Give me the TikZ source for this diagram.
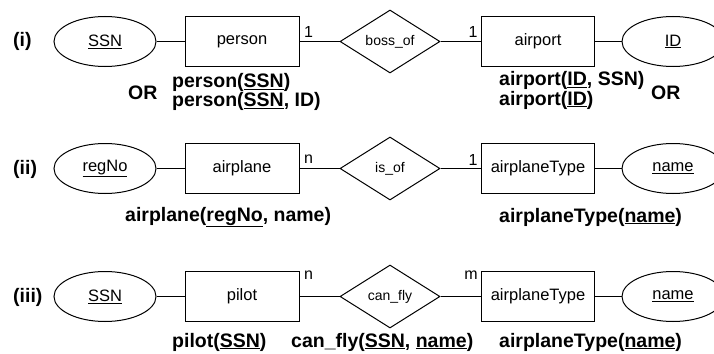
\documentclass[tikz,border=0pt]{standalone}
\usepackage{fontspec}
\setmainfont{Liberation Sans}
\usetikzlibrary{positioning,shapes.geometric}
\tikzset{
    on grid,
    auto,
    entity/.style = {
        draw,
        shape=rectangle,
        minimum height=50pt,
        minimum width=114pt,
        line width=1pt,
        font=\fontsize{16.5}{19}\selectfont
    },
    attrib/.style = {
        draw,
        shape=ellipse,
        minimum height=50pt,
        minimum width=102pt,
        inner sep=0pt,
        line width=1pt,
        font=\fontsize{16.5}{19}\selectfont
    },
    relship/.style = {
        draw,
        shape=diamond,
        minimum height=63pt,
        minimum width=100pt,
        inner sep=0pt,
        line width=1pt,
        font=\fontsize{14}{16}\selectfont
    },
    card/.style = {
        inner sep=0pt,
        font=\fontsize{16}{18}\selectfont
    },
    schema/.style = {
        inner sep=0pt,
        anchor=west,
        align=left,
        font=\bfseries\fontsize{19.5}{17}\selectfont
    },
    tag/.style = {
        inner sep=0pt,
        anchor=west,
        font=\bfseries\fontsize{19.5}{20}\selectfont
    },
}

\begin{document}
\begin{tikzpicture} [x=1pt, y=-1pt]
            \useasboundingbox (0,0) rectangle (714,353);

            % (i)
            \node[attrib] (ssna) at (105,41.5) {\underline{SSN}};
            \node[entity, right=137pt of ssna] (person) {person};
            \node[relship, right=148pt of person] (bossof) {boss\_of};
            \node[entity, right=148pt of bossof, minimum width=113pt] (airport) {airport};
            \node[attrib, right=135pt of airport] (id) {\underline{ID}};
            \node[card] (carda) at (308.5,32) {1};
            \node[card] (cardb) at (473,32) {1};

            % (ii)
            \node[attrib, below=127pt of ssna] (regno) {\underline{regNo}};
            \node[entity, right=137pt of regno] (airplane) {airplane};
            \node[relship, right=148pt of airplane] (isof) {is\_of};
            \node[entity, right=148pt of isof, minimum width=113pt] (typea) {airplaneType};
            \node[attrib, right=135pt of typea] (namea) {\underline{name}};
            \node[card] (cardc) at (308.5,159) {n};
            \node[card] (cardd) at (473,160) {1};

            % (iii)
            \node[attrib, below=128pt of regno] (ssnb) {\underline{SSN}};
            \node[entity, right=137pt of ssnb] (pilot) {pilot};
            \node[relship, right=148pt of pilot] (canfly) {can\_fly};
            \node[entity, right=148pt of canfly, minimum width=113pt] (typeb) {airplaneType};
            \node[attrib, right=135pt of typeb] (nameb) {\underline{name}};
            \node[card] (carde) at (308.5,275) {n};
            \node[card] (cardf) at (471,275) {m};

            % row tags and relations
            \node[tag] (tagi) at (13,41.5) {(i)};
            \node[tag] (tagii) at (13,169) {(ii)};
            \node[tag] (tagiii) at (13,297) {(iii)};
            \node[tag] (ora) at (128,93) {OR};
            \node[tag] (orb) at (651,93) {OR};
            \node[schema] (relperson) at (172,92) {person(\underline{SSN})\\person(\underline{SSN}, ID)};
            \node[schema] (relairport) at (499,90.5) {airport(\underline{ID}, SSN)\\airport(\underline{ID})};
            \node[schema] (relairplane) at (125,217) {airplane(\underline{regNo}, name)};
            \node[schema] (reltypea) at (499,217) {airplaneType(\underline{name})};
            \node[schema] (relpilot) at (172,342) {pilot(\underline{SSN})};
            \node[schema] (relcanfly) at (291,342) {can\_fly(\underline{SSN}, \underline{name})};
            \node[schema] (reltypeb) at (499,342) {airplaneType(\underline{name})};

            \path[draw, line width=1pt] (ssna) -- (person);
            \path[draw, line width=1pt] (person) -- (bossof);
            \path[draw, line width=1pt] (bossof) -- (airport);
            \path[draw, line width=1pt] (airport) -- (id);
            \path[draw, line width=1pt] (regno) -- (airplane);
            \path[draw, line width=1pt] (airplane) -- (isof);
            \path[draw, line width=1pt] (isof) -- (typea);
            \path[draw, line width=1pt] (typea) -- (namea);
            \path[draw, line width=1pt] (ssnb) -- (pilot);
            \path[draw, line width=1pt] (pilot) -- (canfly);
            \path[draw, line width=1pt] (canfly) -- (typeb);
            \path[draw, line width=1pt] (typeb) -- (nameb);
        \end{tikzpicture}
\end{document}
